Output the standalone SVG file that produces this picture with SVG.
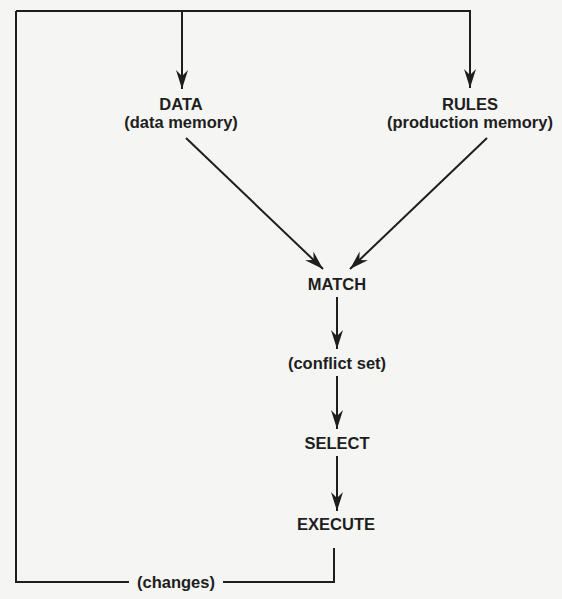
<svg xmlns="http://www.w3.org/2000/svg" width="562" height="599" viewBox="0 0 562 599">
<style>
.t{font-family:"Liberation Sans",Arial,sans-serif;font-weight:bold;font-size:16.5px;fill:#1e1e1e;text-anchor:middle}
.c{stroke:#1e1e1e;stroke-width:2;fill:none}
</style>
<defs>
<marker id="ah" markerUnits="userSpaceOnUse" markerWidth="24" markerHeight="16" viewBox="-20 -8 22 16" refX="0" refY="0" orient="auto">
<path d="M0,0 L-19,-6 L-13,0 L-19,6 Z" fill="#1e1e1e"/>
</marker>
</defs>
<rect width="562" height="599" fill="#f5f5f3"/>
<g id="connectors">
<path class="c" d="M182,11 L182,89" marker-end="url(#ah)"/>
<path class="c" d="M16,11 L470,11 L470,88" marker-end="url(#ah)"/>
<path class="c" d="M186,138 L323,269" marker-end="url(#ah)"/>
<path class="c" d="M487,138 L350,269" marker-end="url(#ah)"/>
<path class="c" d="M337,297 L337,349" marker-end="url(#ah)"/>
<path class="c" d="M337,376 L337,429" marker-end="url(#ah)"/>
<path class="c" d="M337,456 L337,511" marker-end="url(#ah)"/>
<path class="c" d="M16,11 L16,582 L129,582"/>
<path class="c" d="M223,582 L334,582 L334,548"/>
</g>
<g id="data"><text class="t" x="181" y="110">DATA</text><text class="t" x="181" y="128">(data memory)</text></g>
<g id="rules"><text class="t" x="470" y="110">RULES</text><text class="t" x="470" y="128">(production memory)</text></g>
<g id="match"><text class="t" x="337" y="290">MATCH</text></g>
<g id="conflict"><text class="t" x="337" y="369">(conflict set)</text></g>
<g id="select"><text class="t" x="337" y="449">SELECT</text></g>
<g id="execute"><text class="t" x="336" y="530">EXECUTE</text></g>
<g id="changes"><text class="t" x="176" y="588">(changes)</text></g>
</svg>
